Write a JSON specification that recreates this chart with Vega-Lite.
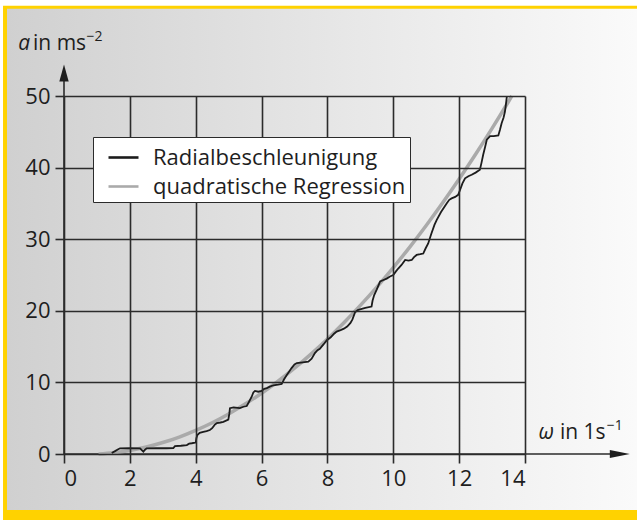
{
  "$schema": "https://vega.github.io/schema/vega-lite/v6.json",
  "autosize": {"type": "none"},
  "width": 461,
  "height": 358,
  "padding": {"left": 64, "top": 96, "right": 112, "bottom": 66},
  "background": "#ffffff",
  "config": {
    "view": {"stroke": null},
    "font": "Open Sans",
    "axis": {
      "domain": false,
      "grid": true,
      "gridColor": "#2b2b2b",
      "gridWidth": 1.6,
      "gridOpacity": 1,
      "tickColor": "#2b2b2b",
      "tickWidth": 1.6,
      "tickSize": 9,
      "labelFont": "Open Sans",
      "labelFontSize": 22,
      "labelColor": "#1e1e1e",
      "labelPadding": 5
    },
    "legend": {
      "orient": "none",
      "legendX": 29,
      "legendY": 41,
      "fillColor": "#ffffff",
      "strokeColor": "#2b2b2b",
      "padding": 4,
      "rowPadding": 1,
      "symbolType": "stroke",
      "symbolSize": 900,
      "symbolStrokeWidth": 2.6,
      "symbolOffset": 10,
      "labelOffset": 13,
      "labelLimit": 500,
      "labelFont": "Open Sans",
      "labelFontSize": 22,
      "labelColor": "#1e1e1e"
    }
  },
  "data": {"values": [
    {"omega": 1.45, "a": 0.15, "serie": "Radialbeschleunigung"},
    {"omega": 1.55, "a": 0.4, "serie": "Radialbeschleunigung"},
    {"omega": 1.62, "a": 0.6, "serie": "Radialbeschleunigung"},
    {"omega": 1.7, "a": 0.8, "serie": "Radialbeschleunigung"},
    {"omega": 2.0, "a": 0.82, "serie": "Radialbeschleunigung"},
    {"omega": 2.31, "a": 0.8, "serie": "Radialbeschleunigung"},
    {"omega": 2.37, "a": 0.5, "serie": "Radialbeschleunigung"},
    {"omega": 2.41, "a": 0.33, "serie": "Radialbeschleunigung"},
    {"omega": 2.46, "a": 0.6, "serie": "Radialbeschleunigung"},
    {"omega": 2.51, "a": 0.8, "serie": "Radialbeschleunigung"},
    {"omega": 2.8, "a": 0.82, "serie": "Radialbeschleunigung"},
    {"omega": 3.1, "a": 0.8, "serie": "Radialbeschleunigung"},
    {"omega": 3.32, "a": 0.82, "serie": "Radialbeschleunigung"},
    {"omega": 3.37, "a": 1.1, "serie": "Radialbeschleunigung"},
    {"omega": 3.55, "a": 1.15, "serie": "Radialbeschleunigung"},
    {"omega": 3.73, "a": 1.25, "serie": "Radialbeschleunigung"},
    {"omega": 3.8, "a": 1.45, "serie": "Radialbeschleunigung"},
    {"omega": 3.88, "a": 1.5, "serie": "Radialbeschleunigung"},
    {"omega": 4.0, "a": 1.6, "serie": "Radialbeschleunigung"},
    {"omega": 4.02, "a": 2.2, "serie": "Radialbeschleunigung"},
    {"omega": 4.05, "a": 2.65, "serie": "Radialbeschleunigung"},
    {"omega": 4.12, "a": 2.95, "serie": "Radialbeschleunigung"},
    {"omega": 4.23, "a": 3.1, "serie": "Radialbeschleunigung"},
    {"omega": 4.33, "a": 3.2, "serie": "Radialbeschleunigung"},
    {"omega": 4.43, "a": 3.35, "serie": "Radialbeschleunigung"},
    {"omega": 4.5, "a": 3.6, "serie": "Radialbeschleunigung"},
    {"omega": 4.58, "a": 4.1, "serie": "Radialbeschleunigung"},
    {"omega": 4.64, "a": 4.3, "serie": "Radialbeschleunigung"},
    {"omega": 4.75, "a": 4.4, "serie": "Radialbeschleunigung"},
    {"omega": 4.84, "a": 4.5, "serie": "Radialbeschleunigung"},
    {"omega": 4.99, "a": 4.8, "serie": "Radialbeschleunigung"},
    {"omega": 5.02, "a": 5.6, "serie": "Radialbeschleunigung"},
    {"omega": 5.04, "a": 6.4, "serie": "Radialbeschleunigung"},
    {"omega": 5.15, "a": 6.5, "serie": "Radialbeschleunigung"},
    {"omega": 5.34, "a": 6.4, "serie": "Radialbeschleunigung"},
    {"omega": 5.45, "a": 6.6, "serie": "Radialbeschleunigung"},
    {"omega": 5.55, "a": 6.7, "serie": "Radialbeschleunigung"},
    {"omega": 5.62, "a": 7.3, "serie": "Radialbeschleunigung"},
    {"omega": 5.7, "a": 8.0, "serie": "Radialbeschleunigung"},
    {"omega": 5.75, "a": 8.6, "serie": "Radialbeschleunigung"},
    {"omega": 5.8, "a": 8.8, "serie": "Radialbeschleunigung"},
    {"omega": 5.9, "a": 8.7, "serie": "Radialbeschleunigung"},
    {"omega": 6.0, "a": 8.8, "serie": "Radialbeschleunigung"},
    {"omega": 6.08, "a": 9.1, "serie": "Radialbeschleunigung"},
    {"omega": 6.16, "a": 9.2, "serie": "Radialbeschleunigung"},
    {"omega": 6.25, "a": 9.4, "serie": "Radialbeschleunigung"},
    {"omega": 6.36, "a": 9.6, "serie": "Radialbeschleunigung"},
    {"omega": 6.5, "a": 9.7, "serie": "Radialbeschleunigung"},
    {"omega": 6.61, "a": 9.8, "serie": "Radialbeschleunigung"},
    {"omega": 6.68, "a": 10.4, "serie": "Radialbeschleunigung"},
    {"omega": 6.76, "a": 11.0, "serie": "Radialbeschleunigung"},
    {"omega": 6.85, "a": 11.6, "serie": "Radialbeschleunigung"},
    {"omega": 6.91, "a": 12.0, "serie": "Radialbeschleunigung"},
    {"omega": 7.0, "a": 12.5, "serie": "Radialbeschleunigung"},
    {"omega": 7.07, "a": 12.7, "serie": "Radialbeschleunigung"},
    {"omega": 7.25, "a": 12.8, "serie": "Radialbeschleunigung"},
    {"omega": 7.42, "a": 12.9, "serie": "Radialbeschleunigung"},
    {"omega": 7.52, "a": 13.3, "serie": "Radialbeschleunigung"},
    {"omega": 7.62, "a": 14.1, "serie": "Radialbeschleunigung"},
    {"omega": 7.7, "a": 14.5, "serie": "Radialbeschleunigung"},
    {"omega": 7.77, "a": 14.7, "serie": "Radialbeschleunigung"},
    {"omega": 7.88, "a": 15.3, "serie": "Radialbeschleunigung"},
    {"omega": 7.98, "a": 15.9, "serie": "Radialbeschleunigung"},
    {"omega": 8.1, "a": 16.3, "serie": "Radialbeschleunigung"},
    {"omega": 8.2, "a": 16.8, "serie": "Radialbeschleunigung"},
    {"omega": 8.28, "a": 17.1, "serie": "Radialbeschleunigung"},
    {"omega": 8.4, "a": 17.3, "serie": "Radialbeschleunigung"},
    {"omega": 8.5, "a": 17.5, "serie": "Radialbeschleunigung"},
    {"omega": 8.6, "a": 17.8, "serie": "Radialbeschleunigung"},
    {"omega": 8.7, "a": 18.3, "serie": "Radialbeschleunigung"},
    {"omega": 8.76, "a": 18.8, "serie": "Radialbeschleunigung"},
    {"omega": 8.84, "a": 19.8, "serie": "Radialbeschleunigung"},
    {"omega": 8.92, "a": 20.1, "serie": "Radialbeschleunigung"},
    {"omega": 8.99, "a": 20.2, "serie": "Radialbeschleunigung"},
    {"omega": 9.15, "a": 20.4, "serie": "Radialbeschleunigung"},
    {"omega": 9.34, "a": 20.6, "serie": "Radialbeschleunigung"},
    {"omega": 9.37, "a": 21.4, "serie": "Radialbeschleunigung"},
    {"omega": 9.42, "a": 22.2, "serie": "Radialbeschleunigung"},
    {"omega": 9.5, "a": 23.0, "serie": "Radialbeschleunigung"},
    {"omega": 9.6, "a": 24.1, "serie": "Radialbeschleunigung"},
    {"omega": 9.7, "a": 24.3, "serie": "Radialbeschleunigung"},
    {"omega": 9.8, "a": 24.5, "serie": "Radialbeschleunigung"},
    {"omega": 9.9, "a": 24.8, "serie": "Radialbeschleunigung"},
    {"omega": 10.0, "a": 25.0, "serie": "Radialbeschleunigung"},
    {"omega": 10.08, "a": 25.5, "serie": "Radialbeschleunigung"},
    {"omega": 10.15, "a": 25.9, "serie": "Radialbeschleunigung"},
    {"omega": 10.25, "a": 26.4, "serie": "Radialbeschleunigung"},
    {"omega": 10.36, "a": 27.1, "serie": "Radialbeschleunigung"},
    {"omega": 10.46, "a": 27.0, "serie": "Radialbeschleunigung"},
    {"omega": 10.56, "a": 27.1, "serie": "Radialbeschleunigung"},
    {"omega": 10.63, "a": 27.5, "serie": "Radialbeschleunigung"},
    {"omega": 10.71, "a": 27.8, "serie": "Radialbeschleunigung"},
    {"omega": 10.82, "a": 27.9, "serie": "Radialbeschleunigung"},
    {"omega": 10.91, "a": 28.0, "serie": "Radialbeschleunigung"},
    {"omega": 10.98, "a": 28.7, "serie": "Radialbeschleunigung"},
    {"omega": 11.06, "a": 29.4, "serie": "Radialbeschleunigung"},
    {"omega": 11.15, "a": 30.7, "serie": "Radialbeschleunigung"},
    {"omega": 11.25, "a": 32.0, "serie": "Radialbeschleunigung"},
    {"omega": 11.32, "a": 32.7, "serie": "Radialbeschleunigung"},
    {"omega": 11.45, "a": 33.8, "serie": "Radialbeschleunigung"},
    {"omega": 11.55, "a": 34.5, "serie": "Radialbeschleunigung"},
    {"omega": 11.62, "a": 35.0, "serie": "Radialbeschleunigung"},
    {"omega": 11.7, "a": 35.5, "serie": "Radialbeschleunigung"},
    {"omega": 11.77, "a": 35.7, "serie": "Radialbeschleunigung"},
    {"omega": 11.88, "a": 35.9, "serie": "Radialbeschleunigung"},
    {"omega": 11.97, "a": 36.2, "serie": "Radialbeschleunigung"},
    {"omega": 12.03, "a": 36.9, "serie": "Radialbeschleunigung"},
    {"omega": 12.1, "a": 37.8, "serie": "Radialbeschleunigung"},
    {"omega": 12.18, "a": 38.5, "serie": "Radialbeschleunigung"},
    {"omega": 12.28, "a": 38.8, "serie": "Radialbeschleunigung"},
    {"omega": 12.38, "a": 39.0, "serie": "Radialbeschleunigung"},
    {"omega": 12.5, "a": 39.3, "serie": "Radialbeschleunigung"},
    {"omega": 12.63, "a": 39.7, "serie": "Radialbeschleunigung"},
    {"omega": 12.68, "a": 40.7, "serie": "Radialbeschleunigung"},
    {"omega": 12.73, "a": 41.8, "serie": "Radialbeschleunigung"},
    {"omega": 12.79, "a": 42.9, "serie": "Radialbeschleunigung"},
    {"omega": 12.84, "a": 43.9, "serie": "Radialbeschleunigung"},
    {"omega": 12.94, "a": 44.4, "serie": "Radialbeschleunigung"},
    {"omega": 13.05, "a": 44.4, "serie": "Radialbeschleunigung"},
    {"omega": 13.19, "a": 44.5, "serie": "Radialbeschleunigung"},
    {"omega": 13.24, "a": 45.3, "serie": "Radialbeschleunigung"},
    {"omega": 13.29, "a": 46.2, "serie": "Radialbeschleunigung"},
    {"omega": 13.35, "a": 47.0, "serie": "Radialbeschleunigung"},
    {"omega": 13.39, "a": 47.8, "serie": "Radialbeschleunigung"},
    {"omega": 13.42, "a": 48.8, "serie": "Radialbeschleunigung"},
    {"omega": 13.45, "a": 50.0, "serie": "Radialbeschleunigung"},
    {"omega": 1.05, "a": 0.0, "serie": "quadratische Regression"},
    {"omega": 1.5, "a": 0.17, "serie": "quadratische Regression"},
    {"omega": 2.0, "a": 0.5, "serie": "quadratische Regression"},
    {"omega": 2.5, "a": 0.97, "serie": "quadratische Regression"},
    {"omega": 3.0, "a": 1.6, "serie": "quadratische Regression"},
    {"omega": 3.5, "a": 2.37, "serie": "quadratische Regression"},
    {"omega": 4.0, "a": 3.3, "serie": "quadratische Regression"},
    {"omega": 4.5, "a": 4.37, "serie": "quadratische Regression"},
    {"omega": 5.0, "a": 5.6, "serie": "quadratische Regression"},
    {"omega": 5.5, "a": 6.97, "serie": "quadratische Regression"},
    {"omega": 6.0, "a": 8.49, "serie": "quadratische Regression"},
    {"omega": 6.5, "a": 10.16, "serie": "quadratische Regression"},
    {"omega": 7.0, "a": 11.98, "serie": "quadratische Regression"},
    {"omega": 7.5, "a": 13.95, "serie": "quadratische Regression"},
    {"omega": 8.0, "a": 16.07, "serie": "quadratische Regression"},
    {"omega": 8.5, "a": 18.34, "serie": "quadratische Regression"},
    {"omega": 9.0, "a": 20.76, "serie": "quadratische Regression"},
    {"omega": 9.5, "a": 23.32, "serie": "quadratische Regression"},
    {"omega": 10.0, "a": 26.04, "serie": "quadratische Regression"},
    {"omega": 10.5, "a": 28.9, "serie": "quadratische Regression"},
    {"omega": 11.0, "a": 31.92, "serie": "quadratische Regression"},
    {"omega": 11.5, "a": 35.08, "serie": "quadratische Regression"},
    {"omega": 12.0, "a": 38.4, "serie": "quadratische Regression"},
    {"omega": 12.5, "a": 41.86, "serie": "quadratische Regression"},
    {"omega": 13.0, "a": 45.47, "serie": "quadratische Regression"},
    {"omega": 13.5, "a": 49.23, "serie": "quadratische Regression"},
    {"omega": 13.6, "a": 50.0, "serie": "quadratische Regression"}
  ]},
  "layer": [
    {
      "data": {"values": [{}]},
      "mark": {"type": "rect", "color": "#ffd200"},
      "encoding": {
        "x": {"datum": -1.852, "type": "quantitative",
          "scale": {"domain": [0, 14], "nice": false, "zero": false},
          "axis": {"values": [0, 2, 4, 6, 8, 10, 12, 14], "title": null, "zindex": 1, "grid": true, "domain": false}},
        "x2": {"datum": 17.8},
        "y": {"datum": 62.6, "type": "quantitative",
          "scale": {"domain": [0, 50], "nice": false, "zero": false},
          "axis": {"values": [0, 10, 20, 30, 40, 50], "title": null, "zindex": 1, "grid": true, "domain": false}},
        "y2": {"datum": -9.6}
      }
    },
    {
      "data": {"values": [{}]},
      "mark": {"type": "rect", "color": {"gradient": "linear", "x1": 0, "y1": 0, "x2": 1, "y2": 0,
        "stops": [{"offset": 0, "color": "#d0d0d0"}, {"offset": 0.5, "color": "#e6e6e6"}, {"offset": 1, "color": "#fbfbfb"}]}},
      "encoding": {
        "x": {"datum": -1.731, "type": "quantitative"},
        "x2": {"datum": 17.8},
        "y": {"datum": 62.2, "type": "quantitative"},
        "y2": {"datum": -7.82}
      }
    },
    {
      "data": {"values": [{}]},
      "mark": {"type": "rule", "color": "#2b2b2b", "strokeWidth": 1.6},
      "encoding": {
        "x": {"datum": 0, "type": "quantitative"},
        "x2": {"datum": 16.85},
        "y": {"datum": 0, "type": "quantitative"}
      }
    },
    {
      "data": {"values": [{}]},
      "mark": {"type": "rule", "color": "#2b2b2b", "strokeWidth": 1.6},
      "encoding": {
        "x": {"datum": 0, "type": "quantitative"},
        "y": {"datum": 0, "type": "quantitative"},
        "y2": {"datum": 53.0}
      }
    },
    {
      "data": {"values": [{}]},
      "mark": {"type": "point", "shape": "M-1,-0.4L1,0L-1,0.4Z", "filled": true, "color": "#1e1e1e", "opacity": 1, "size": 400},
      "encoding": {
        "x": {"datum": 16.88, "type": "quantitative"},
        "y": {"datum": 0, "type": "quantitative"}
      }
    },
    {
      "data": {"values": [{}]},
      "mark": {"type": "point", "shape": "M-0.55,1L0,-1L0.55,1Z", "filled": true, "color": "#1e1e1e", "opacity": 1, "size": 289},
      "encoding": {
        "x": {"datum": 0, "type": "quantitative"},
        "y": {"datum": 53.2, "type": "quantitative"}
      }
    },
    {
      "transform": [{"filter": "datum.serie === 'quadratische Regression'"}],
      "mark": {"type": "line", "strokeWidth": 3.5, "interpolate": "monotone"},
      "encoding": {
        "x": {"field": "omega", "type": "quantitative"},
        "y": {"field": "a", "type": "quantitative"},
        "color": {"field": "serie", "type": "nominal",
          "scale": {"domain": ["Radialbeschleunigung", "quadratische Regression"], "range": ["#1c1c1c", "#aaaaaa"]},
          "legend": {"title": null, "labelLimit": 500, "zindex": 3}}
      }
    },
    {
      "transform": [{"filter": "datum.serie === 'Radialbeschleunigung'"}],
      "mark": {"type": "line", "strokeWidth": 1.8, "strokeJoin": "miter"},
      "encoding": {
        "x": {"field": "omega", "type": "quantitative"},
        "y": {"field": "a", "type": "quantitative"},
        "color": {"field": "serie", "type": "nominal"}
      }
    },
    {
      "data": {"values": [{}]},
      "mark": {"type": "text", "text": "a", "fontStyle": "italic", "fontSize": 21, "align": "left", "baseline": "alphabetic", "color": "#1e1e1e"},
      "encoding": {"x": {"datum": -1.39, "type": "quantitative"}, "y": {"datum": 56.4, "type": "quantitative"}}
    },
    {
      "data": {"values": [{}]},
      "mark": {"type": "text", "text": "in ms", "fontSize": 21, "align": "left", "baseline": "alphabetic", "color": "#1e1e1e"},
      "encoding": {"x": {"datum": -0.94, "type": "quantitative"}, "y": {"datum": 56.4, "type": "quantitative"}}
    },
    {
      "data": {"values": [{}]},
      "mark": {"type": "text", "text": "−2", "fontSize": 14, "align": "left", "baseline": "alphabetic", "color": "#1e1e1e"},
      "encoding": {"x": {"datum": 0.68, "type": "quantitative"}, "y": {"datum": 57.7, "type": "quantitative"}}
    },
    {
      "data": {"values": [{}]},
      "mark": {"type": "text", "text": "ω", "fontStyle": "italic", "fontSize": 21, "align": "left", "baseline": "alphabetic", "color": "#1e1e1e"},
      "encoding": {"x": {"datum": 14.41, "type": "quantitative"}, "y": {"datum": 2.1, "type": "quantitative"}}
    },
    {
      "data": {"values": [{}]},
      "mark": {"type": "text", "text": "in 1s", "fontSize": 21, "align": "left", "baseline": "alphabetic", "color": "#1e1e1e"},
      "encoding": {"x": {"datum": 15.06, "type": "quantitative"}, "y": {"datum": 2.1, "type": "quantitative"}}
    },
    {
      "data": {"values": [{}]},
      "mark": {"type": "text", "text": "−1", "fontSize": 14, "align": "left", "baseline": "alphabetic", "color": "#1e1e1e"},
      "encoding": {"x": {"datum": 16.48, "type": "quantitative"}, "y": {"datum": 3.35, "type": "quantitative"}}
    }
  ]
}
